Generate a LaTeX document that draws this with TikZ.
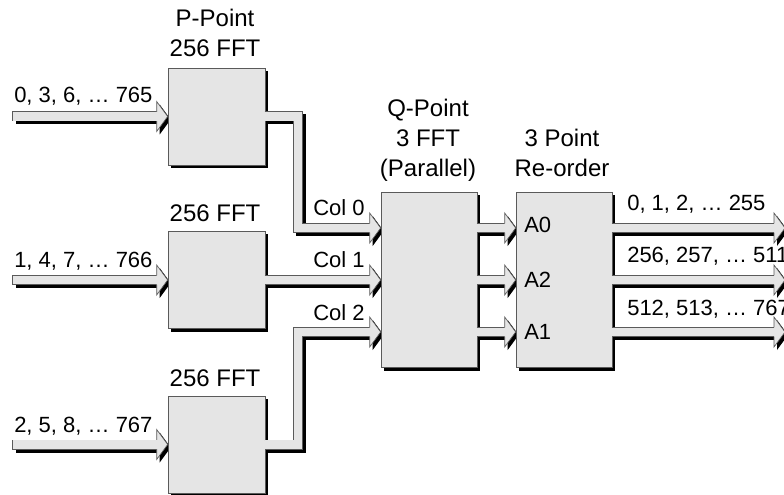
\documentclass[tikz,border=0pt]{standalone}
\usepackage{fontspec}
\setmainfont{Liberation Sans}
\usetikzlibrary{positioning,calc,backgrounds}
\definecolor{busgray}{RGB}{229,229,229}
\definecolor{edgegray}{RGB}{90,90,90}
\tikzset{
  fftblock/.style={draw=edgegray,fill=busgray,line width=0.5pt,inner sep=0pt},
  headtxt/.style={anchor=base,font=\fontsize{18}{22}\selectfont},
  bustxt/.style={anchor=base west,font=\fontsize{16.5}{19}\selectfont,inner sep=0pt},
}
\newcommand\fatbus[2]{%
  \begin{scope}[on background layer]
    \begin{scope}[transform canvas={xshift=2.25pt,yshift=-2.25pt}]
      \draw[black,line width=7.5pt,line join=miter] #1 -- ($#2+(-11,0)$);
      \fill[black] ($#2+(-11,-15)$) -- #2 -- ($#2+(-11,15)$) -- cycle;
    \end{scope}
  \end{scope}
  \draw[edgegray,line width=7.5pt,line join=miter,shorten <=-0.5pt] #1 -- ($#2+(-11,0)$);
  \draw[busgray,line width=6.3pt,line join=miter] #1 -- ($#2+(-10,0)$);
  \filldraw[fill=busgray,draw=edgegray,line width=0.5pt,line join=miter]
    ($#2+(-11,-4.6)$) -- ($#2+(-11,-15)$) -- #2 -- ($#2+(-11,15)$) -- ($#2+(-11,4.6)$);
}
\begin{document}
\begin{tikzpicture}[x=0.75pt,y=-0.75pt]
  \useasboundingbox (0,0) rectangle (784,495);
  % blocks
  \node[fftblock,minimum width=72.75pt,minimum height=72.75pt] (fft0) at (216.5,116.5) {};
  \node[fftblock,minimum width=72.75pt,minimum height=72.75pt] (fft1) at (216.5,280) {};
  \node[fftblock,minimum width=72.75pt,minimum height=72.75pt] (fft2) at (216.5,444.5) {};
  \node[fftblock,minimum width=72pt,minimum height=131.25pt] (q) at (429,280) {};
  \node[fftblock,minimum width=72pt,minimum height=131.25pt] (ro) at (564,280) {};
  \begin{scope}[on background layer]
    \foreach \b in {fft0,fft1,fft2,q,ro}
      \fill[black] ($(\b.north west)+(3,3)$) rectangle ($(\b.south east)+(3,3)$);
  \end{scope}
  % titles
  \node[headtxt] (pt0) at (215,27) {P-Point};
  \node[headtxt] (pt1) at (215,57) {256 FFT};
  \node[headtxt] (pt2) at (215,222) {256 FFT};
  \node[headtxt] (pt3) at (215,386) {256 FFT};
  \node[headtxt] (qt0) at (428,117) {Q-Point};
  \node[headtxt] (qt1) at (428,147) {3 FFT};
  \node[headtxt] (qt2) at (428,177) {(Parallel)};
  \node[headtxt] (rt0) at (562,147) {3 Point};
  \node[headtxt] (rt1) at (562,177) {Re-order};
  % buses
  \coordinate (lx) at (13,0);
  \coordinate (rx) at (785,0);
  \coordinate (bx) at (298,0);
  \coordinate (c0) at ($(q.west)+(0,-52)$);
  \coordinate (c1) at (q.west);
  \coordinate (c2) at ($(q.west)+(0,52)$);
  \fatbus{(lx |- fft0.west)}{(fft0.west)}
  \fatbus{(lx |- fft1.west)}{(fft1.west)}
  \fatbus{(lx |- fft2.west)}{(fft2.west)}
  \fatbus{(fft0.east) -- (bx |- fft0.east) -- (bx |- c0)}{(c0)}
  \fatbus{(fft1.east)}{(c1)}
  \fatbus{(fft2.east) -- (bx |- fft2.east) -- (bx |- c2)}{(c2)}
  \foreach \c in {c0,c1,c2} {
    \fatbus{(q.east |- \c)}{(ro.west |- \c)}
    \fatbus{(ro.east |- \c)}{(rx |- \c)}
  }
  % labels
  \node[bustxt] (in0) at (14,103) {0, 3, 6, … 765};
  \node[bustxt] (in1) at (14,267) {1, 4, 7, … 766};
  \node[bustxt] (in2) at (14,432) {2, 5, 8, … 767};
  \node[bustxt] (col0) at (313,215) {Col 0};
  \node[bustxt] (col1) at (313,267) {Col 1};
  \node[bustxt] (col2) at (313,320) {Col 2};
  \node[bustxt] (a0) at (524,233) {A0};
  \node[bustxt] (a2) at (524,287) {A2};
  \node[bustxt] (a1) at (524,339) {A1};
  \node[bustxt] (out0) at (627,210) {0, 1, 2, … 255};
  \node[bustxt] (out1) at (627,262) {256, 257, … 511};
  \node[bustxt] (out2) at (627,315) {512, 513, … 767};
\end{tikzpicture}
\end{document}
